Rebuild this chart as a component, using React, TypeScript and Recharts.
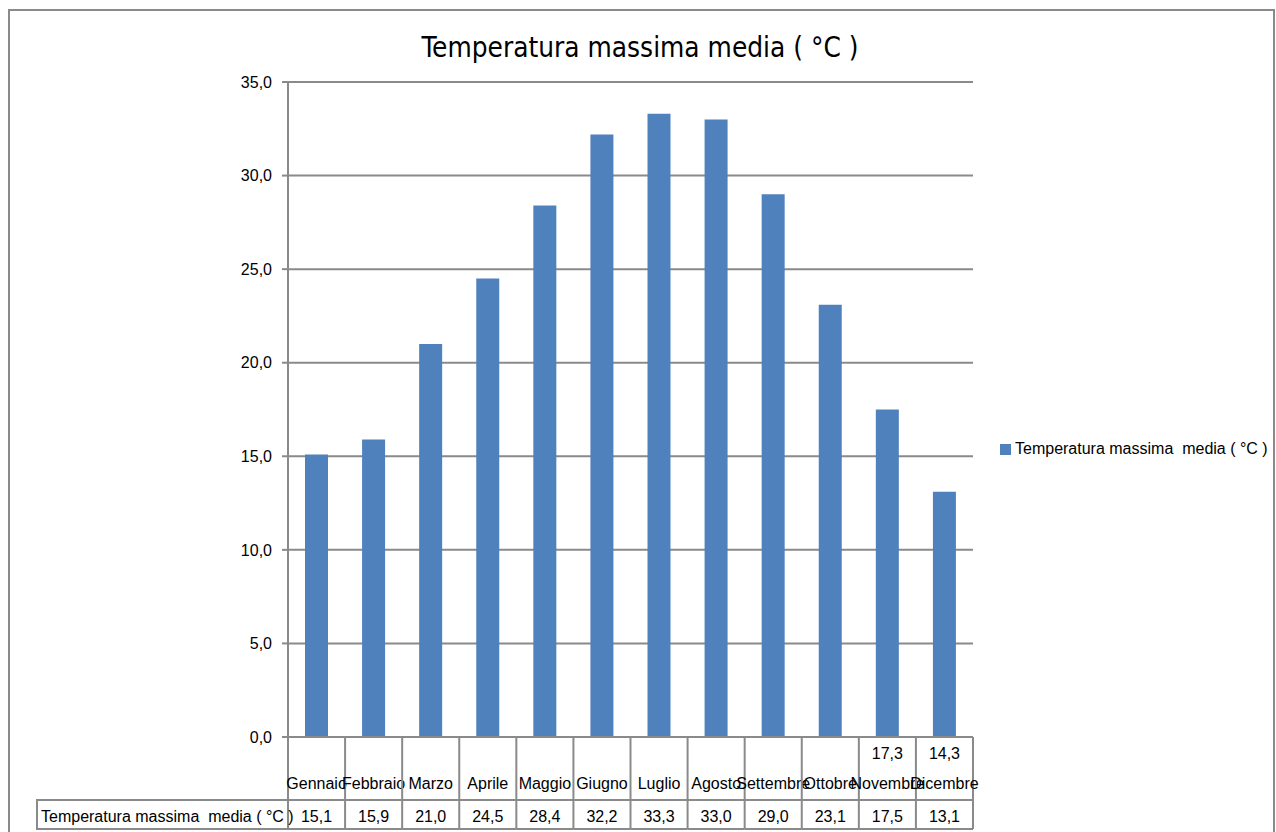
import React from "react";
import {
  BarChart,
  Bar,
  XAxis,
  YAxis,
  CartesianGrid,
  Legend
} from "recharts";

const months = [
  "Gennaio",
  "Febbraio",
  "Marzo",
  "Aprile",
  "Maggio",
  "Giugno",
  "Luglio",
  "Agosto",
  "Settembre",
  "Ottobre",
  "Novembre",
  "Dicembre"
];

const tempMax = [15.1, 15.9, 21.0, 24.5, 28.4, 32.2, 33.3, 33.0, 29.0, 23.1, 17.5, 13.1];

// stray labels printed above the last two columns in the original
const strayLabels = ["", "", "", "", "", "", "", "", "", "", "17,3", "14,3"];

const yTicks = [0, 5, 10, 15, 20, 25, 30, 35];

const seriesName = "Temperatura massima  media ( °C )";
const title = "Temperatura massima media ( °C )";

const data = months.map((m, i) => ({ name: m, value: tempMax[i] }));

const W = 1276;
const H = 832;
const GRID = "#8a8a8a";
const BLUE = "#4F81BD";
const PLOT_LEFT = 288;
const PLOT_RIGHT = 973;
const BAND = (PLOT_RIGHT - PLOT_LEFT) / months.length;

const fmt = (v: number) => v.toFixed(1).replace(".", ",");

const CategoryTick = (props: any) => {
  const { x, y, payload } = props;
  const i = payload.index;
  const left = x - BAND / 2;
  const right = x + BAND / 2;
  const last = i === months.length - 1;
  return (
    <g>
      <line x1={left} y1={y} x2={left} y2={y + 92} stroke={GRID} strokeWidth={2} />
      {last && <line x1={right} y1={y} x2={right} y2={y + 92} stroke={GRID} strokeWidth={2} />}
      <line x1={left} y1={y + 63} x2={right} y2={y + 63} stroke={GRID} strokeWidth={2} />
      <line x1={left} y1={y + 92} x2={right} y2={y + 92} stroke={GRID} strokeWidth={2} />
      {strayLabels[i] && (
        <text x={x} y={y + 22} textAnchor="middle" fontSize={16} fill="#000">
          {strayLabels[i]}
        </text>
      )}
      <text x={x} y={y + 52} textAnchor="middle" fontSize={16} fill="#000">
        {months[i]}
      </text>
      <text x={x} y={y + 85} textAnchor="middle" fontSize={16} fill="#000">
        {fmt(tempMax[i])}
      </text>
      {i === 0 && (
        <g>
          <rect x={37} y={y + 63} width={left - 37} height={29} fill="none" stroke={GRID} strokeWidth={2} />
          <text x={41} y={y + 85} fontSize={16} fill="#000" style={{ whiteSpace: "pre" }}>
            {seriesName}
          </text>
        </g>
      )}
    </g>
  );
};

const LegendBox = () => (
  <div style={{ display: "flex", alignItems: "center", fontSize: 16, whiteSpace: "pre" }}>
    <span style={{ display: "inline-block", width: 11, height: 11, background: BLUE, marginRight: 4 }} />
    <span>{seriesName}</span>
  </div>
);

export default function App() {
  return (
    <div
      style={{
        position: "absolute",
        left: 0,
        top: 0,
        width: W,
        height: H,
        overflow: "hidden",
        background: "#fff",
        fontFamily: "'Liberation Sans', Arial, sans-serif"
      }}
    >
      <div
        style={{
          position: "absolute",
          left: 8,
          top: 9,
          width: W - 9,
          height: H,
          border: `2px solid ${GRID}`,
          boxSizing: "border-box"
        }}
      />
      <svg style={{ position: "absolute", left: 0, top: 0 }} width={W} height={80}>
        <text
          x={640}
          y={57}
          textAnchor="middle"
          fontSize={29}
          fill="#000"
          textLength={437}
          lengthAdjust="spacingAndGlyphs"
          style={{ fontFamily: "'Liberation Sans Narrow', 'DejaVu Sans Condensed', 'Liberation Sans', sans-serif" }}
        >
          {title}
        </text>
      </svg>
      <div style={{ position: "absolute", left: 0, top: 0 }}>
        <BarChart
          width={W}
          height={H}
          data={data}
          margin={{ top: 82, left: PLOT_LEFT - 60, right: W - PLOT_RIGHT, bottom: 0 }}
        >
          <CartesianGrid vertical={false} stroke={GRID} strokeWidth={2} />
          <XAxis
            dataKey="name"
            height={95}
            axisLine={{ stroke: GRID, strokeWidth: 2 }}
            tickLine={false}
            tickSize={0}
            tickMargin={0}
            interval={0}
            tick={<CategoryTick />}
          />
          <YAxis
            width={60}
            domain={[0, 35]}
            ticks={yTicks}
            tickFormatter={fmt}
            axisLine={{ stroke: GRID, strokeWidth: 2 }}
            tickLine={{ stroke: GRID, strokeWidth: 2 }}
            tickSize={6}
            tickMargin={10}
            tick={{ fill: "#000", fontSize: 16 }}
          />
          <Legend
            layout="horizontal"
            verticalAlign="middle"
            align="center"
            wrapperStyle={{ left: 1000, top: 440, width: 290 }}
            content={<LegendBox />}
          />
          <Bar dataKey="value" name={seriesName} fill={BLUE} barSize={23} isAnimationActive={false} />
        </BarChart>
      </div>
    </div>
  );
}
